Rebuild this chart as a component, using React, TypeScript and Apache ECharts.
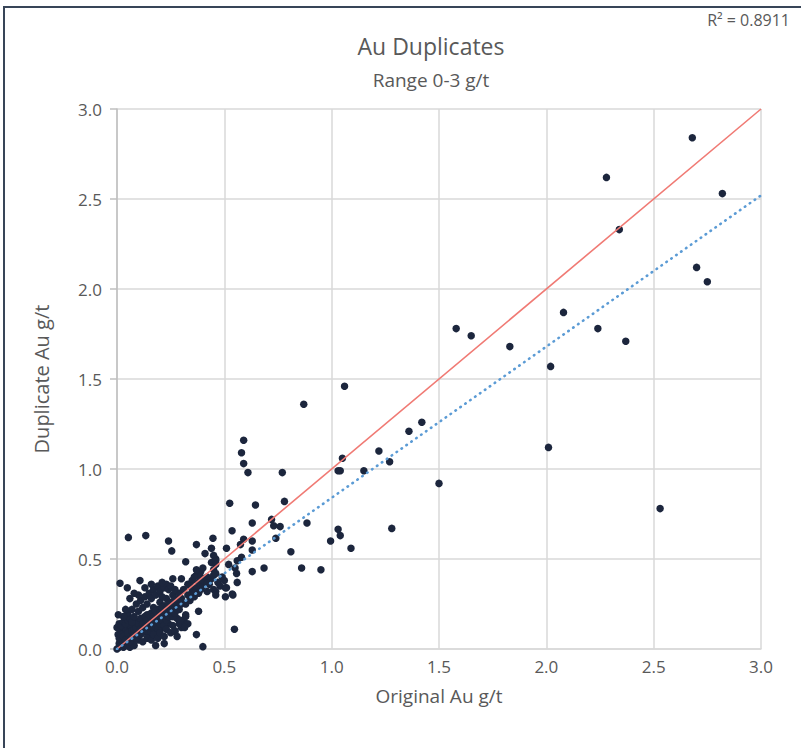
import React, { useEffect, useRef } from "react";
import * as echarts from "echarts";

const FONT = "'Open Sans', 'Noto Sans', sans-serif";

const chartTitle = "Au Duplicates";
const chartSubtitle = "Range 0-3 g/t";
const xAxisName = "Original Au g/t";
const yAxisName = "Duplicate Au g/t";
const rSquaredLabel = "R\u00B2 = 0.8911";

const axisMin = 0;
const axisMax = 3;
const axisStep = 0.5;

// Reference line y = x
const oneToOneLine = [
  [0, 0],
  [3, 3],
];

// Linear trend line (dotted)
const trendLine = [
  [0, 0],
  [3, 2.52],
];

// High-grade samples
const highPoints = [
  [2.68, 2.84], [2.28, 2.62], [2.82, 2.53], [2.34, 2.33], [2.70, 2.12], [2.75, 2.04],
  [2.08, 1.87], [2.24, 1.78], [2.37, 1.71], [1.83, 1.68], [2.02, 1.57], [1.58, 1.78],
  [1.65, 1.74], [2.01, 1.12], [2.53, 0.78], [1.50, 0.92], [1.42, 1.26], [1.36, 1.21],
  [1.27, 1.04], [1.22, 1.10], [1.15, 0.99], [1.06, 1.46], [0.87, 1.36], [1.05, 1.06],
  [1.03, 0.99], [1.04, 0.99], [0.59, 1.16], [0.58, 1.09], [0.59, 1.03], [0.61, 0.98],
  [0.77, 0.98], [1.28, 0.67],
];

// Mid-range samples
const midPoints = [
  [0.645, 0.80], [0.78, 0.82], [0.525, 0.81], [0.63, 0.70], [0.72, 0.72], [0.73, 0.685],
  [0.76, 0.68], [0.885, 0.70], [0.59, 0.61], [0.63, 0.60], [0.575, 0.58], [0.74, 0.615],
  [0.63, 0.55], [0.58, 0.51], [0.81, 0.54], [1.03, 0.665], [1.04, 0.63], [0.995, 0.60],
  [1.09, 0.56], [0.63, 0.43], [0.685, 0.45], [0.86, 0.45], [0.95, 0.44], [0.536, 0.657],
  [0.053, 0.62], [0.134, 0.63], [0.24, 0.60], [0.255, 0.545], [0.51, 0.56], [0.37, 0.58],
  [0.41, 0.53], [0.447, 0.615], [0.44, 0.56], [0.45, 0.52], [0.46, 0.49], [0.46, 0.47],
  [0.45, 0.44], [0.46, 0.42], [0.32, 0.485], [0.37, 0.44], [0.40, 0.45], [0.40, 0.38],
  [0.36, 0.40], [0.39, 0.40], [0.42, 0.365], [0.505, 0.34], [0.54, 0.30], [0.505, 0.29],
  [0.46, 0.32], [0.46, 0.30], [0.34, 0.35], [0.36, 0.31], [0.547, 0.11], [0.40, 0.013],
  [0.38, 0.21], [0.30, 0.39], [0.26, 0.39], [0.32, 0.18], [0.33, 0.14], [0.315, 0.12],
  [0.37, 0.08], [0.014, 0.365], [0.048, 0.34], [0.107, 0.38], [0.006, 0.19], [0.295, 0.16],
  [0.27, 0.10], [0.28, 0.07], [0.557, 0.42], [0.56, 0.37], [0.51, 0.34], [0.537, 0.305],
  [0.56, 0.49], [0.55, 0.45], [0.52, 0.47],
];

// Dense low-grade cluster
const clusterPoints = [
  [0.00, 0.00], [0.01, 0.01], [0.01, 0.03], [0.02, 0.02], [0.02, 0.05], [0.03, 0.01],
  [0.03, 0.04], [0.04, 0.02], [0.04, 0.07], [0.05, 0.03], [0.05, 0.05], [0.005, 0.08],
  [0.01, 0.06], [0.02, 0.10], [0.03, 0.12], [0.00, 0.12], [0.01, 0.14], [0.04, 0.10],
  [0.05, 0.12], [0.06, 0.01], [0.07, 0.03], [0.08, 0.02], [0.06, 0.06], [0.07, 0.08],
  [0.06, 0.10], [0.07, 0.12], [0.08, 0.06], [0.09, 0.09], [0.08, 0.13], [0.09, 0.15],
  [0.10, 0.05], [0.10, 0.11], [0.11, 0.08], [0.11, 0.14], [0.12, 0.12], [0.12, 0.17],
  [0.13, 0.10], [0.13, 0.15], [0.14, 0.13], [0.14, 0.19], [0.15, 0.08], [0.15, 0.16],
  [0.16, 0.12], [0.16, 0.20], [0.17, 0.15], [0.17, 0.23], [0.18, 0.10], [0.18, 0.18],
  [0.19, 0.14], [0.19, 0.22], [0.20, 0.17], [0.20, 0.26], [0.21, 0.12], [0.21, 0.20],
  [0.22, 0.16], [0.22, 0.24], [0.23, 0.19], [0.23, 0.28], [0.24, 0.14], [0.24, 0.22],
  [0.25, 0.18], [0.25, 0.26], [0.26, 0.21], [0.26, 0.30], [0.27, 0.24], [0.28, 0.17],
  [0.28, 0.27], [0.29, 0.22], [0.29, 0.31], [0.30, 0.25],
  [0.02, 0.08], [0.03, 0.07], [0.04, 0.05], [0.05, 0.09], [0.06, 0.04], [0.06, 0.13],
  [0.07, 0.06], [0.07, 0.10], [0.08, 0.09], [0.08, 0.11], [0.09, 0.06], [0.09, 0.12],
  [0.10, 0.08], [0.10, 0.14], [0.11, 0.11], [0.11, 0.17], [0.12, 0.09], [0.12, 0.14],
  [0.13, 0.12], [0.13, 0.18], [0.14, 0.10], [0.14, 0.16], [0.15, 0.13], [0.15, 0.19],
  [0.16, 0.15], [0.16, 0.09], [0.17, 0.12], [0.17, 0.18], [0.18, 0.14], [0.18, 0.21],
  [0.19, 0.17], [0.19, 0.11], [0.20, 0.14], [0.20, 0.20], [0.21, 0.16], [0.21, 0.23],
  [0.22, 0.19], [0.22, 0.13], [0.23, 0.16], [0.23, 0.22], [0.24, 0.18], [0.24, 0.25],
  [0.25, 0.21], [0.26, 0.18], [0.26, 0.24], [0.27, 0.20], [0.27, 0.28], [0.28, 0.22],
  [0.02, 0.13], [0.03, 0.15], [0.04, 0.14], [0.05, 0.16], [0.06, 0.17], [0.07, 0.15],
  [0.05, 0.20], [0.07, 0.22], [0.08, 0.18], [0.09, 0.25], [0.10, 0.21], [0.11, 0.27],
  [0.12, 0.23], [0.13, 0.29], [0.14, 0.25], [0.15, 0.31], [0.16, 0.28], [0.17, 0.33],
  [0.18, 0.30], [0.19, 0.35], [0.20, 0.32], [0.21, 0.29], [0.22, 0.34], [0.23, 0.36],
  [0.24, 0.33], [0.25, 0.35], [0.27, 0.33], [0.13, 0.34], [0.10, 0.30], [0.06, 0.28],
  [0.08, 0.31], [0.16, 0.36], [0.21, 0.37], [0.03, 0.18], [0.04, 0.22],
  [0.12, 0.04], [0.14, 0.06], [0.16, 0.05], [0.17, 0.08], [0.19, 0.06], [0.20, 0.09],
  [0.22, 0.07], [0.23, 0.11], [0.25, 0.09], [0.26, 0.13], [0.27, 0.10], [0.29, 0.14],
  [0.30, 0.12], [0.31, 0.16], [0.32, 0.19], [0.22, 0.03], [0.18, 0.02],
  [0.30, 0.28], [0.31, 0.33], [0.32, 0.25], [0.33, 0.30], [0.33, 0.36], [0.34, 0.27],
  [0.35, 0.32], [0.35, 0.38], [0.36, 0.29], [0.37, 0.34], [0.37, 0.41], [0.38, 0.31],
  [0.38, 0.37], [0.39, 0.33], [0.39, 0.43], [0.40, 0.35], [0.41, 0.38], [0.42, 0.32],
  [0.42, 0.40], [0.43, 0.36], [0.44, 0.39], [0.45, 0.33], [0.45, 0.41], [0.47, 0.37],
  [0.48, 0.35], [0.49, 0.40], [0.50, 0.38], [0.46, 0.50], [0.44, 0.48],
];

export default function App() {
  const ref = useRef<HTMLDivElement>(null);

  useEffect(() => {
    if (!ref.current) return;
    const chart = echarts.init(ref.current, null, { renderer: "svg" });
    const labelColor = "#595959";
    const gridColor = "#d9d9d9";
    const pointStyle = { color: "#1c263d", opacity: 1 };
    const scatterBase = {
      type: "scatter" as const,
      symbol: "circle",
      symbolSize: 7.5,
      itemStyle: pointStyle,
      z: 2,
    };
    chart.setOption({
      animation: false,
      backgroundColor: "#ffffff",
      grid: { left: 117, right: 40, top: 109, bottom: 99 },
      xAxis: {
        type: "value",
        min: axisMin,
        max: axisMax,
        interval: axisStep,
        axisLine: { show: true, lineStyle: { color: gridColor, width: 1.5 } },
        axisTick: { show: false },
        splitLine: { show: true, lineStyle: { color: gridColor, width: 1.5 } },
        axisLabel: {
          color: labelColor,
          fontSize: 17,
          fontFamily: FONT,
          margin: 9,
          formatter: (v: number) => v.toFixed(1),
        },
        name: xAxisName,
        nameLocation: "middle",
        nameGap: 37,
        nameTextStyle: { color: labelColor, fontSize: 19, fontFamily: FONT },
      },
      yAxis: {
        type: "value",
        min: axisMin,
        max: axisMax,
        interval: axisStep,
        axisLine: { show: true, lineStyle: { color: "#bfbfbf", width: 1.5 } },
        axisTick: { show: true, length: 7, lineStyle: { color: "#bfbfbf", width: 1.5 } },
        splitLine: { show: true, lineStyle: { color: gridColor, width: 1.5 } },
        axisLabel: {
          color: labelColor,
          fontSize: 17,
          fontFamily: FONT,
          margin: 15,
          formatter: (v: number) => v.toFixed(1),
        },
        name: yAxisName,
        nameLocation: "middle",
        nameGap: 66,
        nameTextStyle: { color: labelColor, fontSize: 20, fontFamily: FONT },
      },
      graphic: [
        {
          type: "rect",
          shape: { x: 4, y: 7, width: 820, height: 760 },
          style: { fill: "none", stroke: "#384558", lineWidth: 2 },
          silent: true,
          z: 100,
        },
        {
          type: "text",
          x: 431,
          y: 46,
          style: {
            text: chartTitle,
            fill: labelColor,
            fontSize: 23,
            fontFamily: FONT,
            textAlign: "center",
            textVerticalAlign: "middle",
          },
        },
        {
          type: "text",
          x: 431,
          y: 80,
          style: {
            text: chartSubtitle,
            fill: labelColor,
            fontSize: 19,
            fontFamily: FONT,
            textAlign: "center",
            textVerticalAlign: "middle",
          },
        },
        {
          type: "text",
          x: 790,
          y: 20,
          style: {
            text: rSquaredLabel,
            fill: labelColor,
            fontSize: 16,
            fontFamily: FONT,
            textAlign: "right",
            textVerticalAlign: "middle",
          },
        },
      ],
      series: [
        { ...scatterBase, name: "cluster", data: clusterPoints },
        { ...scatterBase, name: "mid", data: midPoints },
        { ...scatterBase, name: "high", data: highPoints },
        {
          type: "line",
          name: "1:1",
          data: oneToOneLine,
          symbol: "none",
          lineStyle: { color: "#f07a74", width: 1.6 },
          z: 5,
        },
        {
          type: "line",
          name: "Trend",
          data: trendLine,
          symbol: "none",
          lineStyle: { color: "#5b9bd5", width: 2.6, type: [0.5, 5.5], cap: "round" },
          z: 6,
        },
      ],
    });
    return () => chart.dispose();
  }, []);

  return (
    <div
      ref={ref}
      style={{ position: "absolute", left: 0, top: 0, width: 801, height: 748 }}
    />
  );
}
